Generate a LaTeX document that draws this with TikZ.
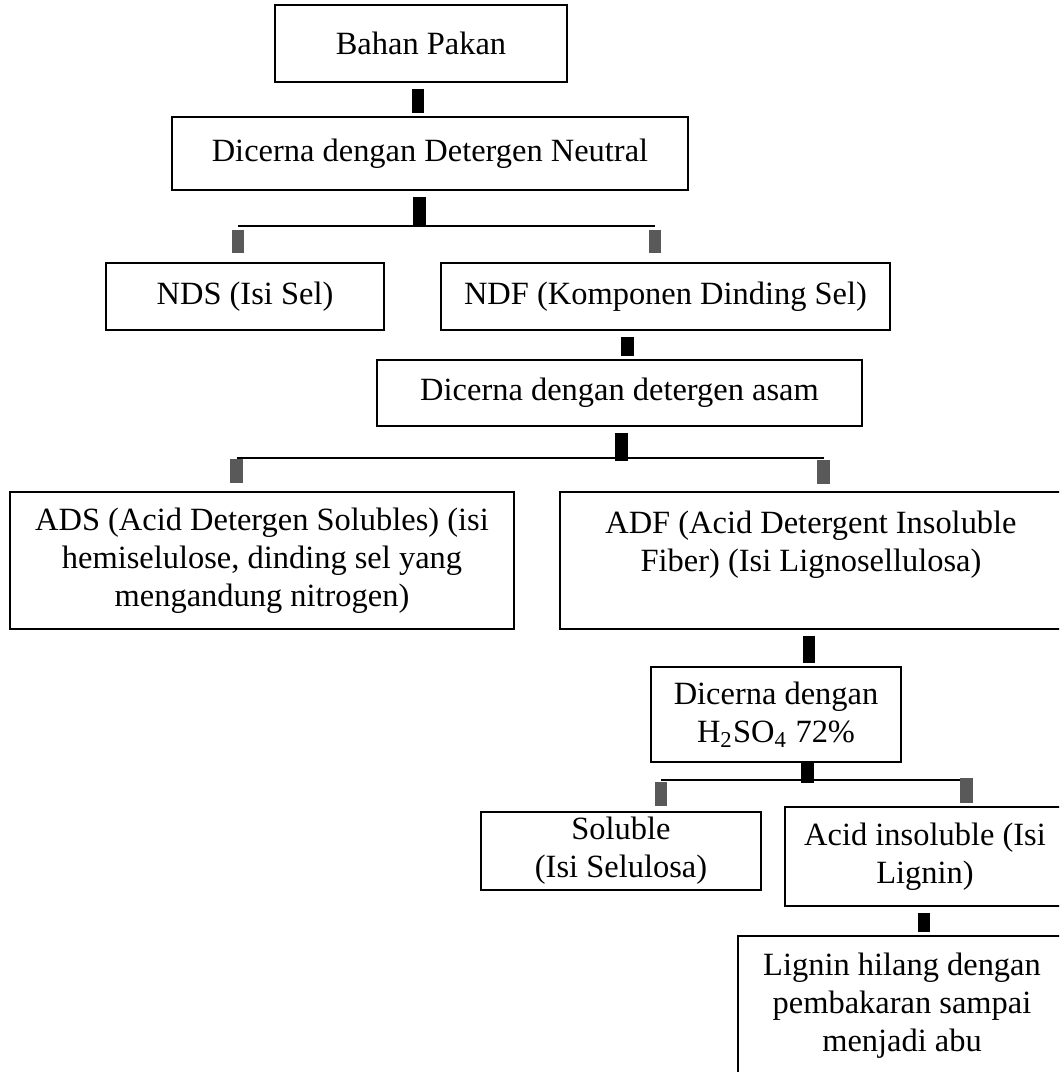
\documentclass[tikz,border=0pt]{standalone}
\usepackage{fontspec}
\setmainfont{Liberation Serif}

\begin{document}
\begin{tikzpicture}[
        x=0.3636pt, y=-0.3636pt,
        box/.style={rectangle, draw=black, line width=0.8pt, align=center, inner sep=0pt, font=\fontsize{11.8}{13.8}\selectfont},
        bar/.style={draw=black, line width=4.6pt, shorten <=2pt, shorten >=1pt},
        stub/.style={draw=black!65, line width=4.7pt},
        fork/.style={draw=black, line width=0.8pt}
      ]
        \clip (0,0) rectangle (1059,1072);

        \node (bahan) [box, minimum width=106.2pt, minimum height=28pt] at (421,43.5) {Bahan Pakan};
        \node (neutral) [box, minimum width=187.6pt, minimum height=26.5pt] at (430,153.5) {Dicerna dengan Detergen Neutral};

        \node (nds) [box, minimum width=101.1pt, minimum height=24.4pt] at (245,296.5) {NDS (Isi Sel)};
        \node (ndf) [box, minimum width=163.3pt, minimum height=24.4pt] at (665.5,296.5) {NDF (Komponen Dinding Sel)};

        \node (asam) [box, minimum width=176.3pt, minimum height=24pt] at (619.5,393) {Dicerna dengan detergen asam};

        \node (ads) [box, minimum width=183.3pt, minimum height=49.8pt] at (262,560.5) {ADS (Acid Detergen Solubles) (isi\\hemiselulose, dinding sel yang\\mengandung nitrogen)};
        \node (adf) [box, minimum width=182.5pt, minimum height=49.8pt] at (811,560.5) {ADF (Acid Detergent Insoluble\\Fiber) (Isi Lignosellulosa)\\\mbox{}};

        \node (acid) [box, minimum width=90.9pt, minimum height=34.5pt] at (776,714.5) {Dicerna dengan\\H\textsubscript{2}SO\textsubscript{4} 72\%};

        \node (soluble) [box, minimum width=101.8pt, minimum height=28.4pt] at (621,851) {Soluble\\(Isi Selulosa)};
        \node (insoluble) [box, minimum width=101.8pt, minimum height=36pt] at (925,856.5) {Acid insoluble (Isi\\Lignin)};

        \node (lignin) [box, minimum width=119.3pt, minimum height=50.9pt] at (902,1006) {Lignin hilang dengan\\pembakaran sampai\\menjadi abu};

        \coordinate (fork1) at (419.5,226);
        \coordinate (fork1l) at (238,226);
        \coordinate (fork1r) at (655,226);
        \coordinate (fork2) at (621.5,458);
        \coordinate (fork2l) at (236.5,458);
        \coordinate (fork2r) at (823.5,458);
        \coordinate (fork3) at (807.5,780);
        \coordinate (fork3l) at (661,780);
        \coordinate (fork3r) at (966.5,780);

        \draw[bar] (bahan.south -| 418,0) -- (neutral.north -| 418,0);
        \draw[bar, shorten >=0pt] (neutral.south -| fork1) -- (fork1);
        \draw[fork] (fork1l) -- (fork1r);
        \draw[stub] (fork1l) ++(0,4) -- ++(0,23);
        \draw[stub] (fork1r) ++(0,4) -- ++(0,23);

        \draw[bar] (ndf.south -| 627.5,0) -- (asam.north -| 627.5,0);
        \draw[bar, shorten >=0pt] (asam.south -| fork2) -- ([yshift=-1pt]fork2);
        \draw[fork] (fork2l) -- (fork2r);
        \draw[stub] (fork2l) ++(0,1) -- ++(0,24);
        \draw[stub] (fork2r) ++(0,2) -- ++(0,24);

        \draw[bar] (adf.south -| 809,0) -- (acid.north -| 809,0);
        \draw[bar, shorten <=0pt, shorten >=0pt] (acid.south -| fork3) -- ([yshift=-1pt]fork3);
        \draw[fork] (fork3l) -- (fork3r);
        \draw[stub] (fork3l) ++(0,2) -- ++(0,24);
        \draw[stub] (fork3r) ++(0,-2) -- ++(0,25);

        \draw[bar] (insoluble.south -| 924,0) -- (lignin.north -| 924,0);
      \end{tikzpicture}
\end{document}
